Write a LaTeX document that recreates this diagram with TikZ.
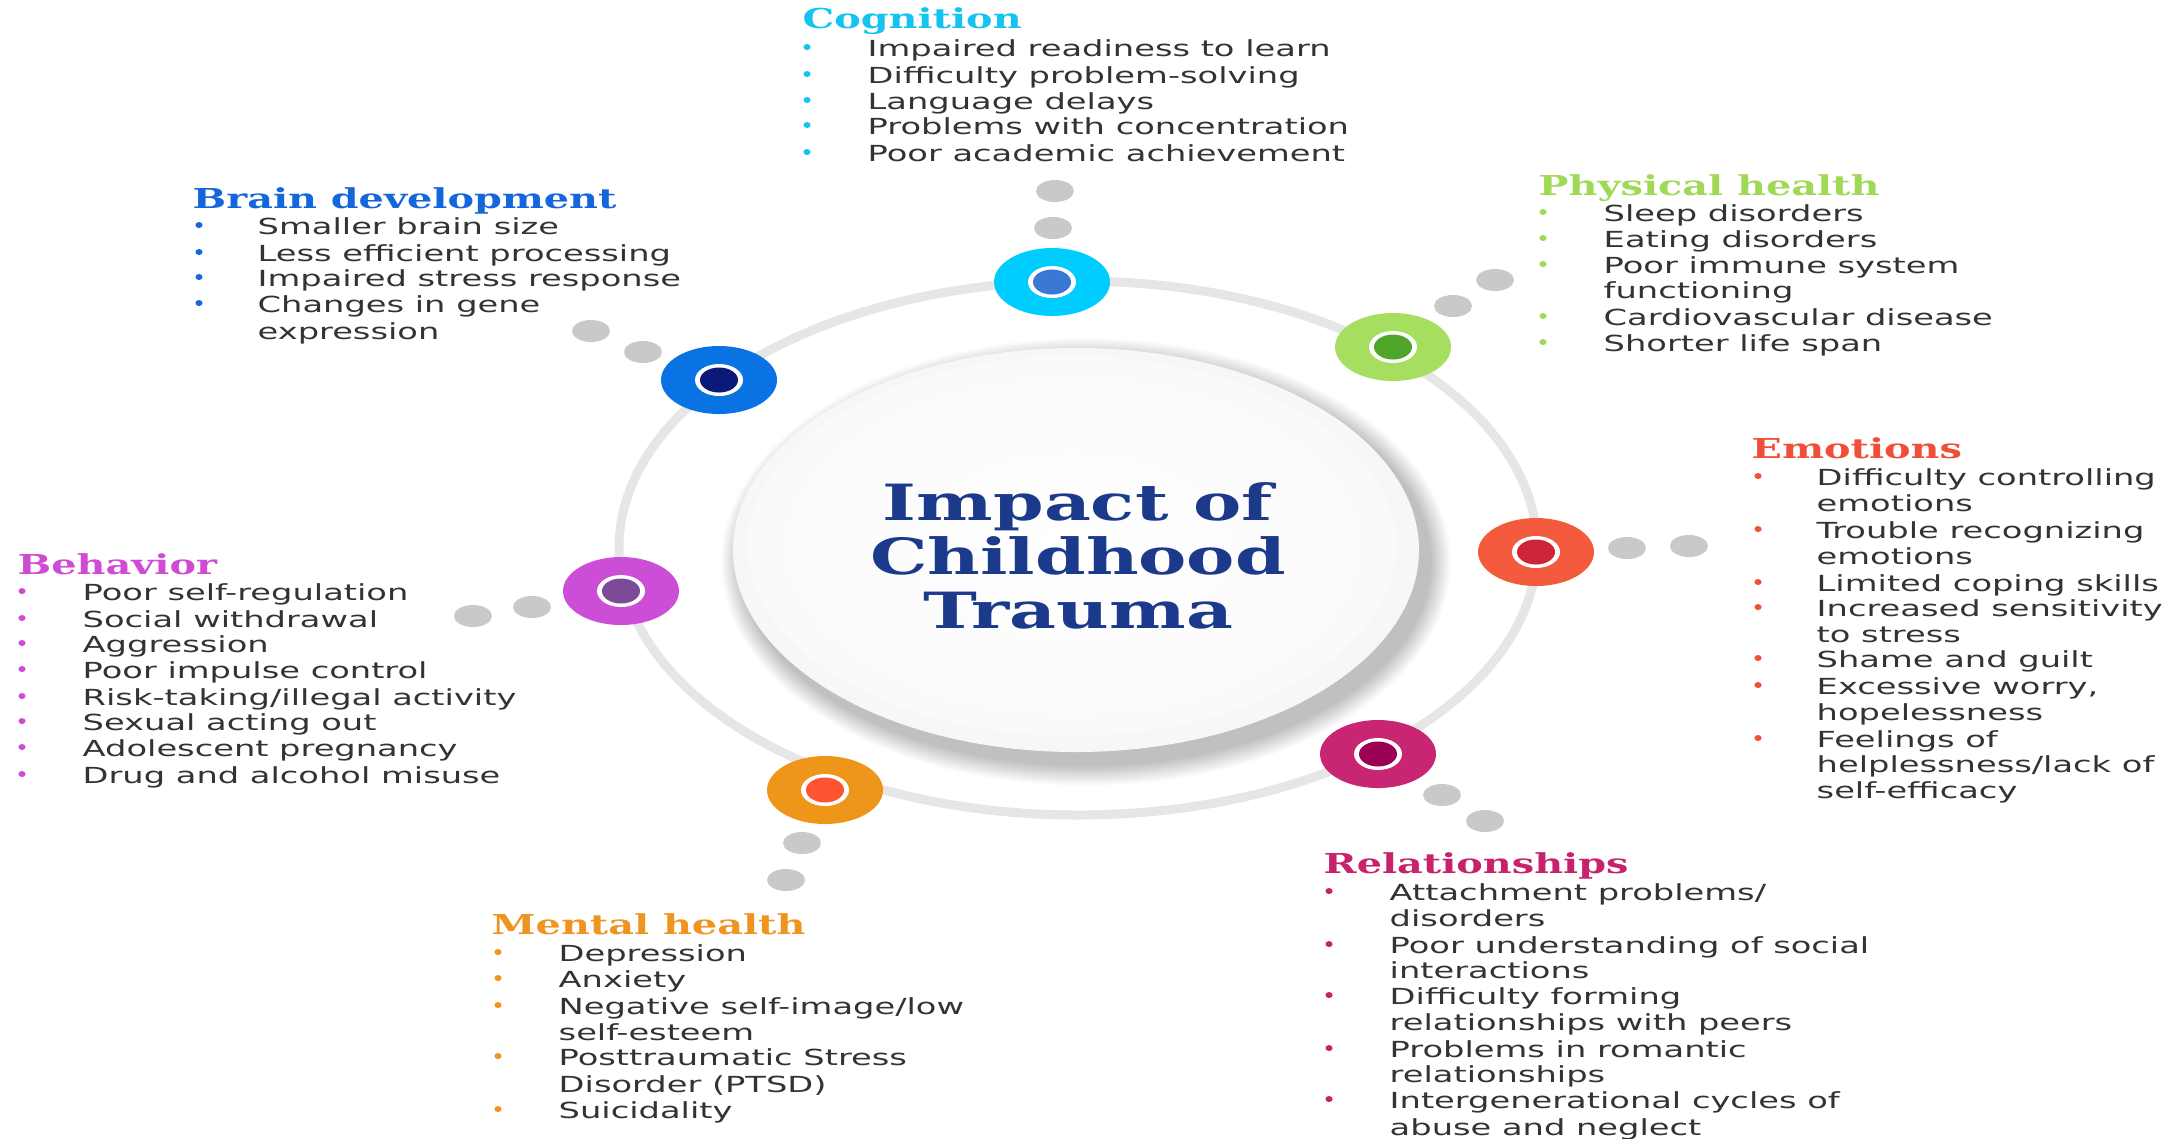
\documentclass[tikz,border=0pt]{standalone}
\usepackage{fontspec}
\newfontfamily\bodyf[FakeStretch=1.52]{DejaVu Sans}
\newfontfamily\headf[FakeStretch=1.45]{DejaVu Serif}
\definecolor{bodytext}{HTML}{333333}
\definecolor{ringgray}{HTML}{E6E6E6}
\definecolor{dotgray}{HTML}{C9C9C9}
\definecolor{titleblue}{HTML}{1C3A8C}
\definecolor{cogH}{HTML}{14C3F0}\definecolor{cogO}{HTML}{00CDFF}\definecolor{cogI}{HTML}{3A78D6}
\definecolor{brnH}{HTML}{1466DC}\definecolor{brnO}{HTML}{0A73E3}\definecolor{brnI}{HTML}{0B1A78}
\definecolor{phyH}{HTML}{A0D955}\definecolor{phyO}{HTML}{A6DF5F}\definecolor{phyI}{HTML}{4FA52A}
\definecolor{emoH}{HTML}{F04E36}\definecolor{emoO}{HTML}{F45A3E}\definecolor{emoI}{HTML}{CF2339}
\definecolor{behH}{HTML}{CF4BD6}\definecolor{behO}{HTML}{CC4ED7}\definecolor{behI}{HTML}{7D4A99}
\definecolor{menH}{HTML}{EF941E}\definecolor{menO}{HTML}{EE9619}\definecolor{menI}{HTML}{FF5431}
\definecolor{relH}{HTML}{C7236C}\definecolor{relO}{HTML}{C82572}\definecolor{relI}{HTML}{9A0053}
\tikzset{
  txt/.style={anchor=mid west, inner sep=0pt, yshift=-0.015cm, text=bodytext, font=\bodyf\fontsize{6.3}{7.5}\selectfont},
  head/.style={anchor=mid west, inner sep=0pt, yshift=-0.03cm, font=\headf\bfseries\fontsize{7.8}{9}\selectfont},
}
\newcommand\blt[3]{\fill[#1] (#2,#3) ellipse [x radius=3.6, y radius=3];}
\newcommand\hub[4]{% x y outer inner
  \fill[#3] (#1,#2) ellipse [x radius=58, y radius=34];
  \fill[white] (#1,#2) ellipse [x radius=24, y radius=16];
  \fill[#4] (#1,#2) ellipse [x radius=19, y radius=12.5];}
\newcommand\gd[2]{\fill[dotgray] (#1,#2) ellipse [x radius=19, y radius=11];}
\begin{document}
\begin{tikzpicture}[x=0.01cm,y=-0.01cm]
\useasboundingbox (0,0) rectangle (2182,1138);
\fill[white] (0,0) rectangle (2182,1138);
% ring
\draw[ringgray, line width=0.09cm] (1078,548) ellipse [x radius=459, y radius=267];
% central shadow
\foreach \i in {0,...,20}{
  \fill[black, opacity=0.010] (1086,562) ellipse [x radius=343+22-\i, y radius=202+22-\i];}
\fill[white!97!black] (1076,550) ellipse [x radius=343, y radius=202];
\shade[inner color=white, outer color=white!98!black] (1072,546) ellipse [x radius=324, y radius=190];
% gray dots
\gd{1055}{191}\gd{1053}{228}
\gd{591}{331}\gd{643}{352}
\gd{1453}{306}\gd{1495}{280}
\gd{1627}{548}\gd{1689}{546}
\gd{532}{607}\gd{473}{616}
\gd{802}{843}\gd{786}{880}
\gd{1442}{795}\gd{1485}{821}
% hubs
\hub{1052}{282}{cogO}{cogI}
\hub{1393}{347}{phyO}{phyI}
\hub{1536}{552}{emoO}{emoI}
\hub{1378}{754}{relO}{relI}
\hub{825}{790}{menO}{menI}
\hub{621}{591}{behO}{behI}
\hub{719}{380}{brnO}{brnI}
% title
\node[align=center, text=titleblue, inner sep=0pt,
      font=\headf\bfseries\fontsize{14.2}{15.4}\selectfont] (title) at (1078,556)
  {Impact of\\Childhood\\Trauma};
% Cognition
\node[head, text=cogH] (cogh) at (802,18) {Cognition};
\foreach \y/\t [count=\n] in {47/Impaired readiness to learn,74/Difficulty problem-solving,100/Language delays,125/Problems with concentration,152/Poor academic achievement}{
  \blt{cogH}{807}{\y}\node[txt] (cog\n) at (867,\y) {\t};}
% Brain development
\node[head, text=brnH] (brnh) at (192,198) {Brain development};
\foreach \y/\t [count=\n] in {225/Smaller brain size,252/Less efficient processing,277/Impaired stress response,303/Changes in gene}{
  \blt{brnH}{199}{\y}\node[txt] (brn\n) at (257,\y) {\t};}
\node[txt] (brn5) at (257,330) {expression};
% Physical health
\node[head, text=phyH] (phyh) at (1538,185) {Physical health};
\foreach \y/\t [count=\n] in {212/Sleep disorders,238/Eating disorders,264/Poor immune system,316/Cardiovascular disease,342/Shorter life span}{
  \blt{phyH}{1543}{\y}\node[txt] (phy\n) at (1603,\y) {\t};}
\node[txt] (phy6) at (1603,289) {functioning};
% Emotions
\node[head, text=emoH] (emoh) at (1751,448) {Emotions};
\foreach \y/\t [count=\n] in {476/Difficulty controlling,529/Trouble recognizing,582/Limited coping skills,607/Increased sensitivity,658/Shame and guilt,685/{Excessive worry,},738/Feelings of}{
  \blt{emoH}{1758}{\y}\node[txt] (emo\n) at (1816,\y) {\t};}
\foreach \y/\t [count=\n] in {502/emotions,555/emotions,633/to stress,711/hopelessness,763/{helplessness/lack of},789/self-efficacy}{
  \node[txt] (emoc\n) at (1816,\y) {\t};}
% Behavior
\node[head, text=behH] (behh) at (17,564) {Behavior};
\foreach \y/\t [count=\n] in {591/Poor self-regulation,618/Social withdrawal,643/Aggression,669/Poor impulse control,696/{Risk-taking/illegal activity},721/Sexual acting out,747/Adolescent pregnancy,774/Drug and alcohol misuse}{
  \blt{behH}{22}{\y}\node[txt] (beh\n) at (82,\y) {\t};}
% Mental health
\node[head, text=menH] (menh) at (491,924) {Mental health};
\foreach \y/\t [count=\n] in {952/Depression,978/Anxiety,1005/{Negative self-image/low},1056/Posttraumatic Stress,1109/Suicidality}{
  \blt{menH}{498}{\y}\node[txt] (men\n) at (558,\y) {\t};}
\node[txt] (menc1) at (558,1031) {self-esteem};
\node[txt] (menc2) at (558,1083) {Disorder (PTSD)};
% Relationships
\node[head, text=relH] (relh) at (1323,863) {Relationships};
\foreach \y/\t [count=\n] in {891/{Attachment problems/},944/Poor understanding of social,995/Difficulty forming,1048/Problems in romantic,1099/Intergenerational cycles of}{
  \blt{relH}{1329}{\y}\node[txt] (rel\n) at (1389,\y) {\t};}
\foreach \y/\t [count=\n] in {917/disorders,969/interactions,1021/relationships with peers,1073/relationships,1126/abuse and neglect}{
  \node[txt] (relc\n) at (1389,\y) {\t};}
\end{tikzpicture}
\end{document}
